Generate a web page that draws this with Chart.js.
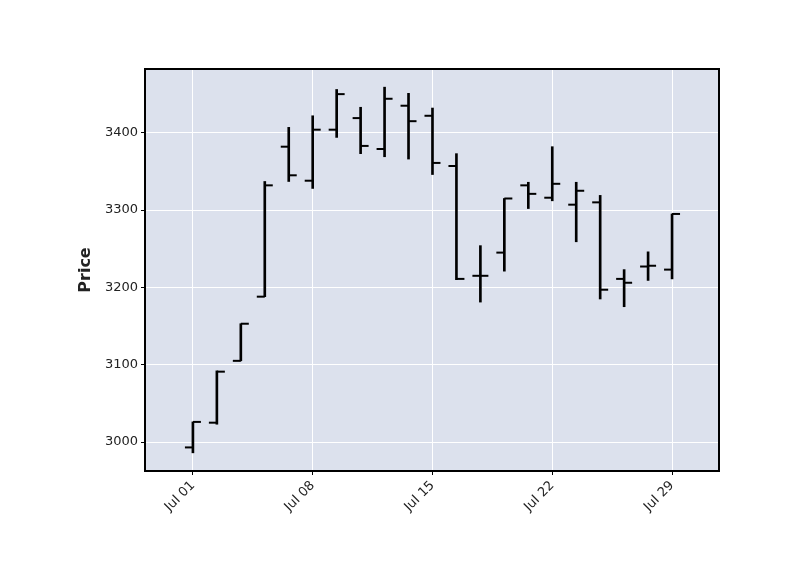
<!DOCTYPE html>
<html>
<head>
<meta charset="utf-8">
<script src="https://cdn.jsdelivr.net/npm/chart.js@4"></script>
<style>
  body { margin: 0; background: #fff; }
  #wrap { width: 800px; height: 575px; }
</style>
</head>
<body>
<div id="wrap"><canvas id="ohlc"></canvas></div>
<script>
// Trading days, July 2024
const dates = ['Jul 01','Jul 02','Jul 03','Jul 05','Jul 06','Jul 08','Jul 09','Jul 10','Jul 11','Jul 12',
               'Jul 15','Jul 16','Jul 17','Jul 18','Jul 19','Jul 22','Jul 23','Jul 24','Jul 25','Jul 26','Jul 29'];
const opens  = [2993,3025,3105,3188,3382,3338,3404,3419,3379,3435,3422,3357,3215,3245,3332,3316,3307,3310,3211,3227,3223];
const highs  = [3026,3092,3153,3337,3407,3422,3456,3433,3459,3451,3432,3373,3254,3315,3336,3382,3336,3319,3223,3246,3295];
const lows   = [2986,3023,3105,3188,3337,3328,3394,3373,3369,3366,3346,3210,3181,3221,3302,3312,3259,3185,3175,3209,3211];
const closes = [3026,3091,3153,3332,3345,3404,3450,3383,3444,3415,3361,3211,3215,3315,3321,3334,3325,3197,3206,3228,3295];
const yTicks = [3000, 3100, 3200, 3300, 3400];
const xTicks = [0, 5, 10, 15, 20];

// tick half-length in index units (24px per bar, ticks ~8px long)
const TICK = 4 / 24;

const rangeData = highs.map((h, i) => ({ x: i, y: [lows[i], h] }));
const openData = opens.map((o, i) => ({ x: i - TICK, y: o }));
const closeData = closes.map((c, i) => ({ x: i + TICK, y: c }));

const panel = {
    id: 'panel',
    beforeDraw(chart) {
        const { ctx, chartArea: a } = chart;
        ctx.save();
        ctx.fillStyle = '#dce1ed';
        ctx.fillRect(a.left, a.top, a.right - a.left, a.bottom - a.top);
        ctx.restore();
    },
    afterDraw(chart) {
        const { ctx, chartArea: a } = chart;
        ctx.save();
        ctx.strokeStyle = '#000';
        ctx.lineWidth = 2;
        ctx.strokeRect(a.left, a.top, a.right - a.left, a.bottom - a.top);
        ctx.restore();
    }
};

const tickStyle = {
    borderColor: '#000',
    backgroundColor: '#000',
    pointStyle: 'line',
    pointRadius: 4,
    pointBorderWidth: 2,
    pointHoverRadius: 4,
    showLine: false
};

new Chart(document.getElementById('ohlc'), {
    data: {
        datasets: [
            { type: 'bar', data: rangeData, backgroundColor: '#000', barThickness: 2, borderWidth: 0 },
            Object.assign({ type: 'scatter', data: openData }, tickStyle),
            Object.assign({ type: 'scatter', data: closeData }, tickStyle)
        ]
    },
    plugins: [panel],
    options: {
        responsive: true,
        maintainAspectRatio: false,
        animation: false,
        layout: { padding: { top: 69, right: 81, left: 76, bottom: 0 } },
        plugins: { legend: { display: false }, tooltip: { enabled: false } },
        scales: {
            x: {
                type: 'linear',
                offset: false,
                min: -2,
                max: 21.96,
                afterBuildTicks: s => { s.ticks = xTicks.map(v => ({ value: v })); },
                afterFit: s => { s.height = 104; },
                border: { display: false },
                grid: { offset: false, color: '#fff', lineWidth: 1, drawTicks: true, tickColor: '#000', tickLength: 4 },
                ticks: {
                    color: '#222',
                    font: { family: 'DejaVu Sans', size: 13 },
                    maxRotation: 45, minRotation: 45,
                    callback: v => dates[v]
                }
            },
            y: {
                min: 2962.5,
                max: 3482.5,
                afterBuildTicks: s => { s.ticks = yTicks.map(v => ({ value: v })); },
                afterFit: s => { s.width = 69; },
                border: { display: false },
                grid: { color: '#fff', lineWidth: 1, tickColor: '#000', tickLength: 4 },
                title: { display: true, text: 'Price', color: '#222', padding: 0, font: { family: 'DejaVu Sans', size: 16, weight: 'bold' } },
                ticks: { color: '#222', font: { family: 'DejaVu Sans', size: 13 }, callback: v => String(v) }
            }
        }
    }
});
</script>
</body>
</html>
